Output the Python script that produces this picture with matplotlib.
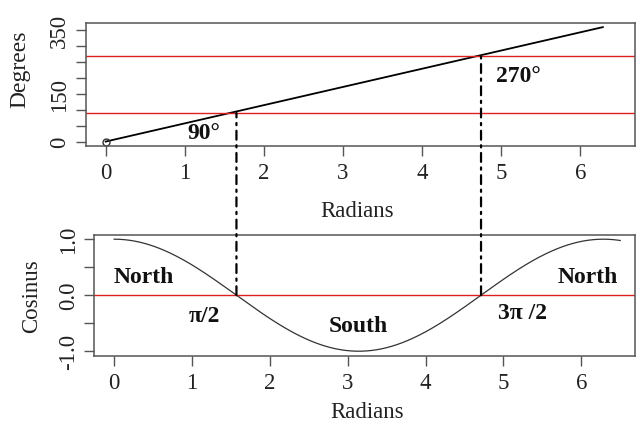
import numpy as np
import matplotlib.pyplot as plt
from matplotlib.patches import ConnectionPatch
from matplotlib.transforms import blended_transform_factory

plt.rcParams['font.family'] = ['Liberation Serif', 'DejaVu Serif']
plt.rcParams['axes.linewidth'] = 1.0

# Angle conversion: radians -> degrees (straight line)
line_radians = [0.0, 2 * np.pi]
line_degrees = [0.0, 360.0]

# Cosine curve sampled over one turn (slightly past 2*pi)
cos_radians = np.linspace(0.0, 6.5, 300)
cos_values = np.cos(cos_radians)

# Reference levels and quarter-turn positions
degree_levels = [90, 270]
quarter_turns = [np.pi / 2, 3 * np.pi / 2]
quarter_degrees = [90, 270]

deg_ticks = [0, 50, 100, 150, 200, 250, 300, 350]
deg_ticklabels = ['0', '', '', '150', '', '', '', '350']
cos_ticks = [-1.0, -0.5, 0.0, 0.5, 1.0]
cos_ticklabels = ['-1.0', '', '0.0', '', '1.0']
rad_ticks = [0, 1, 2, 3, 4, 5, 6]

W, H = 638, 427
fig = plt.figure(figsize=(W / 100, H / 100), dpi=100)


def frac_box(left, right, top, bottom):
    return [left / W, 1 - bottom / H, (right - left) / W, (bottom - top) / H]


ax1 = fig.add_axes(frac_box(85.5, 635, 24, 146.7))
ax2 = fig.add_axes(frac_box(94.3, 635, 235.7, 356.7))

spine_col = '#555555'
text_col = '#222222'
tick_fs = 16.5
lab_fs = 16.5
note_fs = 17
for ax in (ax1, ax2):
    for s in ax.spines.values():
        s.set_color(spine_col)
        s.set_linewidth(1.1)
    ax.tick_params(direction='out', length=7, width=1.0, color=spine_col,
                   labelsize=tick_fs, labelcolor=text_col)
    ax.tick_params(axis='x', pad=5)
    ax.tick_params(axis='y', pad=4)
    ax.set_xticks(rad_ticks)
    ax.set_xticklabels([str(t) for t in rad_ticks])
    ax.set_xlim(-0.255, 6.69)

# ---- top panel: degrees vs radians ----
ax1.plot(line_radians, line_degrees, color='black', lw=1.3)
ax1.plot(line_radians[:1], line_degrees[:1], 'o', mfc='none', mec='#333333',
         ms=5, mew=1.0)
for lvl in degree_levels:
    ax1.axhline(lvl, color='#e02020', lw=1.0)
ax1.set_ylim(-13, 373)
ax1.set_yticks(deg_ticks)
ax1.set_yticklabels(deg_ticklabels, rotation=90, va='center')
ax1.set_ylabel('Degrees', fontsize=lab_fs + 0.5, color=text_col, va='center')
ax1.yaxis.set_label_coords(-0.119, 0.633)
ax1.set_xlabel('Radians', fontsize=lab_fs, color=text_col, va='center')
ax1.xaxis.set_label_coords(0.494, -0.53)
ax1.text(1.24, 30, '90°', fontsize=note_fs, fontweight='bold', ha='center',
         va='center', color='#111111')
ax1.text(5.22, 207, '270°', fontsize=note_fs, fontweight='bold', ha='center',
         va='center', color='#111111')

# ---- bottom panel: cosine vs radians ----
ax2.plot(cos_radians, cos_values, color='#333333', lw=0.9)
ax2.axhline(0, color='#e02020', lw=1.0)
ax2.set_ylim(-1.08, 1.08)
ax2.set_yticks(cos_ticks)
ax2.set_yticklabels(cos_ticklabels, rotation=90, va='center')
ax2.set_ylabel('Cosinus', fontsize=lab_fs, color=text_col, va='center')
ax2.yaxis.set_label_coords(-0.1158, 0.5)
ax2.set_xlabel('Radians', fontsize=lab_fs, color=text_col, va='center')
ax2.xaxis.set_label_coords(0.504, -0.465)

labels = [('North', 0.38, 0.33), ('π/2', 1.16, -0.36), ('South', 3.14, -0.54),
          ('3π /2', 5.24, -0.30), ('North', 6.08, 0.34)]
for txt, x, y in labels:
    ax2.text(x, y, txt, fontsize=note_fs, fontweight='bold', ha='center',
             va='center', color='#111111')

# Dot-dash connectors from the degree levels down to the zero crossings
link_tr = blended_transform_factory(ax2.transData, ax1.transData)
for xr, dg in zip(quarter_turns, quarter_degrees):
    con = ConnectionPatch(xyA=(xr, 0), coordsA=ax2.transData,
                          xyB=(xr, dg), coordsB=link_tr,
                          color='black', lw=1.6,
                          linestyle=(0, (4, 2.5, 1, 2.5)))
    fig.add_artist(con)

fig.savefig('out.png', dpi=100)
